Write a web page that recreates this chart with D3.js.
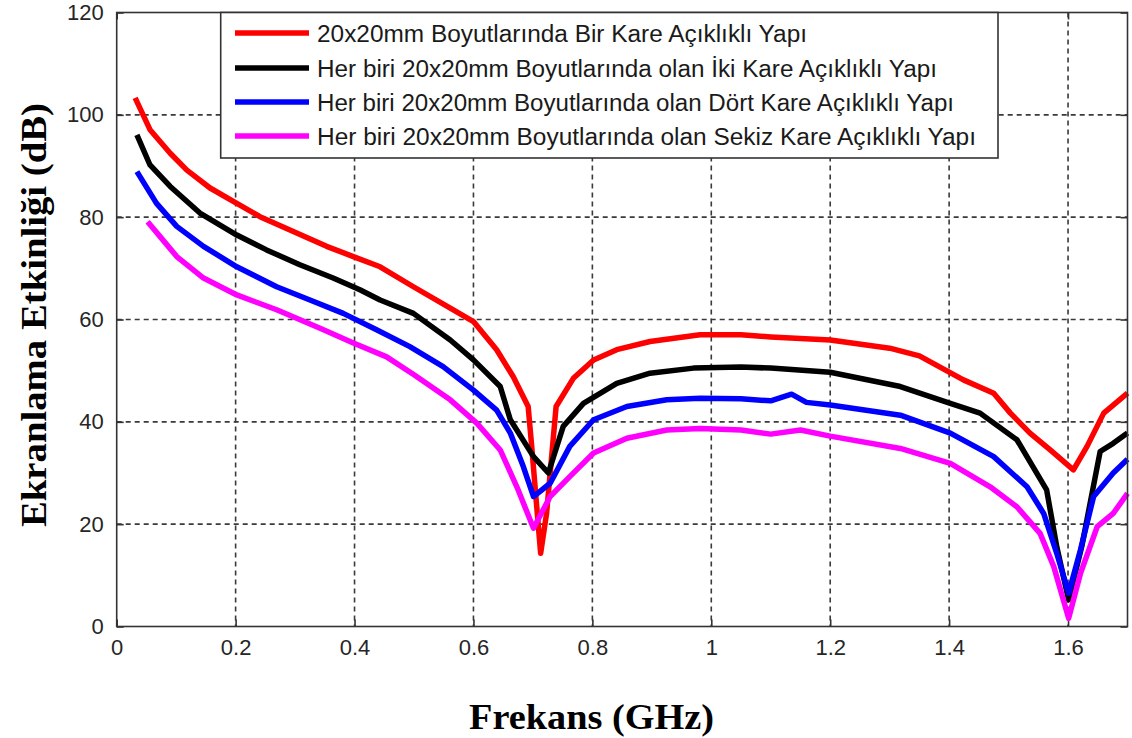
<!DOCTYPE html>
<html>
<head>
<meta charset="utf-8">
<script src="https://cdn.jsdelivr.net/npm/d3@7"></script>
<style>
  html, body { margin: 0; padding: 0; background: #fff; }
  svg { display: block; }
</style>
</head>
<body>
<svg id="chart" width="1132" height="738"></svg>
<script>
// ---------------- data ----------------
const xTicks = [0, 0.2, 0.4, 0.6, 0.8, 1, 1.2, 1.4, 1.6];
const yTicks = [0, 20, 40, 60, 80, 100, 120];
const xLabel = "Frekans (GHz)";
const yLabel = "Ekranlama Etkinliği (dB)";

const seriesNames = [
  "20x20mm Boyutlarında Bir Kare Açıklıklı Yapı",
  "Her biri 20x20mm Boyutlarında olan İki Kare Açıklıklı Yapı",
  "Her biri 20x20mm Boyutlarında olan Dört Kare Açıklıklı Yapı",
  "Her biri 20x20mm Boyutlarında olan Sekiz Kare Açıklıklı Yapı"
];
const seriesColors = ["#ff0000", "#000000", "#0000ff", "#ff00ff"];

const redFreq = [0.031,0.056,0.09,0.118,0.157,0.202,0.241,0.297,0.353,0.398,0.443,0.499,0.561,0.600,0.639,0.667,0.692,0.698,0.705,0.713,0.723,0.739,0.768,0.802,0.841,0.897,0.981,1.05,1.10,1.20,1.30,1.35,1.424,1.475,1.503,1.536,1.570,1.609,1.632,1.660,1.70];
const redSE   = [103.3,97.1,92.5,89.2,85.7,82.7,80.1,77.2,74.3,72.3,70.3,66.4,62.2,59.6,54.1,48.8,43.0,35.2,25.4,14.3,22.1,43.0,48.5,52.1,54.1,55.7,57.0,57.0,56.6,56.0,54.4,52.9,48.2,45.6,41.7,37.8,34.5,30.6,35.2,41.7,45.6];

const blackFreq = [0.034,0.056,0.09,0.14,0.202,0.252,0.308,0.364,0.409,0.443,0.499,0.561,0.600,0.645,0.662,0.701,0.726,0.751,0.785,0.841,0.897,0.97,1.05,1.10,1.20,1.318,1.402,1.452,1.514,1.564,1.581,1.601,1.623,1.654,1.676,1.70];
const blackSE   = [96.1,90.2,86.0,80.8,76.5,73.6,70.7,68.1,65.8,63.8,61.2,56.0,52.1,46.9,40.4,33.2,30.0,39.1,43.6,47.5,49.5,50.5,50.7,50.5,49.7,46.9,43.6,41.7,36.5,26.7,15.6,5.2,15.6,34.2,35.8,37.8];

const blueFreq = [0.034,0.067,0.101,0.146,0.202,0.269,0.325,0.381,0.437,0.493,0.549,0.600,0.639,0.662,0.684,0.701,0.729,0.762,0.802,0.858,0.925,0.981,1.05,1.10,1.135,1.16,1.20,1.318,1.402,1.475,1.531,1.559,1.581,1.601,1.621,1.643,1.676,1.70];
const blueSE   = [88.9,82.7,78.2,74.3,70.3,66.4,63.8,61.2,58.0,54.7,50.8,46.2,42.3,37.8,31.2,25.4,28.0,35.2,40.4,43.0,44.3,44.6,44.5,44.1,45.4,43.8,43.3,41.3,37.8,33.2,27.3,22.1,14.3,6.5,15.0,25.4,30.0,32.7];

const pinkFreq = [0.052,0.073,0.101,0.146,0.202,0.269,0.342,0.398,0.454,0.50,0.561,0.606,0.645,0.673,0.701,0.729,0.762,0.802,0.858,0.925,0.981,1.05,1.10,1.15,1.20,1.318,1.402,1.469,1.514,1.553,1.576,1.601,1.621,1.649,1.676,1.70];
const pinkSE   = [79.1,76.2,72.3,68.1,64.8,61.9,58.3,55.4,52.7,49.2,44.3,39.7,34.5,27.3,19.2,25.4,29.3,33.9,36.8,38.4,38.7,38.4,37.6,38.4,37.2,34.8,31.9,27.3,23.4,18.2,11.7,1.6,10.4,19.5,22.1,26.0];

const seriesFreq = [redFreq, blackFreq, blueFreq, pinkFreq];
const seriesSE = [redSE, blackSE, blueSE, pinkSE];

// ---------------- layout ----------------
const plotL = 116.7, plotR = 1127.5, plotT = 12.5, plotB = 626.5;
const svg = d3.select("#chart");

const x = d3.scaleLinear().domain([0, 1.7]).range([plotL, plotR]);
const y = d3.scaleLinear().domain([0, 120]).range([plotB, plotT]);

const axisColor = "#333";
const gridColor = "#3a3a3a";

// grid
const grid = svg.append("g");
grid.selectAll("line.vx").data(xTicks.filter(d => d > 0)).join("line")
  .attr("x1", d => x(d)).attr("x2", d => x(d))
  .attr("y1", plotT).attr("y2", plotB)
  .attr("stroke", gridColor).attr("stroke-width", 1.6)
  .attr("stroke-dasharray", "5,4");
grid.selectAll("line.hy").data(yTicks.filter(d => d > 0 && d < 120)).join("line")
  .attr("x1", plotL).attr("x2", plotR)
  .attr("y1", d => y(d)).attr("y2", d => y(d))
  .attr("stroke", gridColor).attr("stroke-width", 1.6)
  .attr("stroke-dasharray", "5,4");

// axes
const xAxisB = d3.axisBottom(x).tickValues(xTicks).tickSize(-7).tickPadding(13)
  .tickFormat(d => String(d));
const yAxisL = d3.axisLeft(y).tickValues(yTicks).tickSize(-7).tickPadding(13)
  .tickFormat(d => String(d));
const xAxisT = d3.axisTop(x).tickValues(xTicks).tickSize(-7).tickFormat("");
const yAxisR = d3.axisRight(y).tickValues(yTicks).tickSize(-7).tickFormat("");

function styleAxis(g) {
  g.select(".domain").remove();
  g.selectAll(".tick line").attr("stroke", axisColor).attr("stroke-width", 1.6);
  g.selectAll(".tick text").attr("fill", "#262626")
    .style("font-family", "'Liberation Sans', Arial, sans-serif")
    .style("font-size", "22px");
}
svg.append("g").attr("transform", `translate(0,${plotB})`).call(xAxisB).call(styleAxis);
svg.append("g").attr("transform", `translate(${plotL},0)`).call(yAxisL).call(styleAxis);
svg.append("g").attr("transform", `translate(0,${plotT})`).call(xAxisT).call(styleAxis);
svg.append("g").attr("transform", `translate(${plotR},0)`).call(yAxisR).call(styleAxis);

// series lines
const line = d3.line().x(d => x(d[0])).y(d => y(d[1]));
const lines = svg.append("g");
seriesNames.forEach((name, i) => {
  const pts = seriesFreq[i].map((f, j) => [f, seriesSE[i][j]]);
  lines.append("path").datum(pts)
    .attr("d", line)
    .attr("fill", "none")
    .attr("stroke", seriesColors[i])
    .attr("stroke-width", 5.5)
    .attr("stroke-linejoin", "round")
    .attr("stroke-linecap", "butt");
});

// frame
svg.append("rect").attr("x", plotL).attr("y", plotT)
  .attr("width", plotR - plotL).attr("height", plotB - plotT)
  .attr("fill", "none").attr("stroke", axisColor).attr("stroke-width", 1.6);

// legend
const lg = svg.append("g");
const lgX = 220.7, lgY = plotT, lgW = 998 - 220.7, lgH = 158 - plotT;
lg.append("rect").attr("x", lgX).attr("y", lgY).attr("width", lgW).attr("height", lgH)
  .attr("fill", "#fff").attr("stroke", axisColor).attr("stroke-width", 1.6);
const rowY = [33, 68, 102, 136];
const textEnds = [807, 937, 954, 976];
seriesNames.forEach((name, i) => {
  lg.append("line").attr("x1", 235).attr("x2", 309)
    .attr("y1", rowY[i]).attr("y2", rowY[i])
    .attr("stroke", seriesColors[i]).attr("stroke-width", 5.5);
  lg.append("text").attr("x", 317).attr("y", rowY[i] + 8.5)
    .attr("fill", "#1a1a1a")
    .style("font-family", "'Liberation Sans', Arial, sans-serif")
    .style("font-size", "23px")
    .attr("textLength", textEnds[i] - 317)
    .attr("lengthAdjust", "spacingAndGlyphs")
    .text(name);
});

// axis titles
svg.append("text")
  .attr("x", 469).attr("y", 729)
  .attr("textLength", 245).attr("lengthAdjust", "spacingAndGlyphs")
  .style("font-family", "'Liberation Serif', 'Times New Roman', serif")
  .style("font-weight", "bold").style("font-size", "36px")
  .attr("fill", "#000")
  .text(xLabel);

svg.append("text")
  .attr("transform", "translate(46,527) rotate(-90)")
  .attr("x", 0).attr("y", 0)
  .attr("textLength", 424).attr("lengthAdjust", "spacingAndGlyphs")
  .style("font-family", "'Liberation Serif', 'Times New Roman', serif")
  .style("font-weight", "bold").style("font-size", "36px")
  .attr("fill", "#000")
  .text(yLabel);
</script>
</body>
</html>
